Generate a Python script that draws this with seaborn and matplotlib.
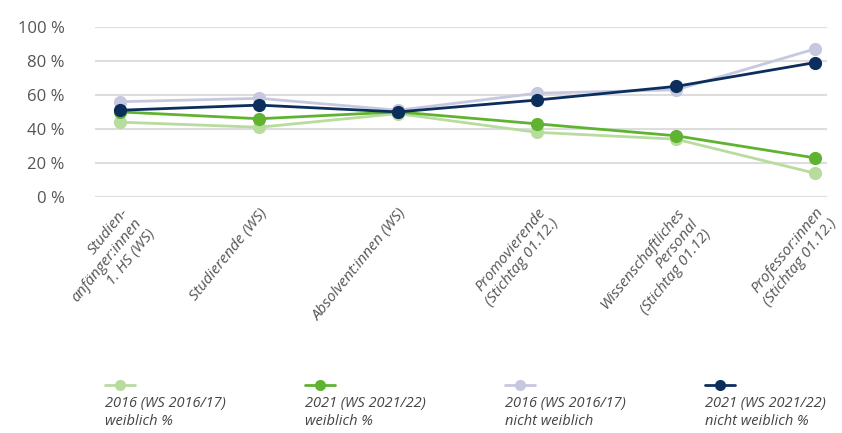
import matplotlib
matplotlib.use("Agg")
import matplotlib.pyplot as plt
from matplotlib.lines import Line2D
import seaborn as sns
import pandas as pd

categories = [
    "Studien-\nanfänger:innen\n1. HS (WS)",
    "Studierende (WS)",
    "Absolvent:innen (WS)",
    "Promovierende\n(Stichtag 01.12.)",
    "Wissenschaftliches\nPersonal\n(Stichtag 01.12)",
    "Professor:innen\n(Stichtag 01.12.)",
]
w2016 = [44, 41, 49, 38, 34, 14]
w2021 = [50, 46, 50, 43, 36, 23]
nw2016 = [56, 58, 51, 61, 63, 87]
nw2021 = [51, 54, 50, 57, 65, 79]

series_names = [
    "2016 (WS 2016/17)\nweiblich %",
    "2021 (WS 2021/22)\nweiblich %",
    "2016 (WS 2016/17)\nnicht weiblich",
    "2021 (WS 2021/22)\nnicht weiblich %",
]
colors = ["#b8dc9e", "#5fb331", "#c6c8e0", "#0b2e5d"]

rows = []
for name, vals in zip(series_names, [w2016, w2021, nw2016, nw2021]):
    for i, v in enumerate(vals):
        rows.append({"pos": i, "value": v, "series": name})
df = pd.DataFrame(rows)

sns.set_style("white")
plt.rcParams["font.family"] = ["Open Sans", "DejaVu Sans"]

fig = plt.figure(figsize=(8.42, 4.33), dpi=100)
ax = fig.add_axes([0.113, 0.545, 0.869, 0.393])

sns.lineplot(
    data=df, x="pos", y="value", hue="series",
    hue_order=series_names, palette=colors,
    marker="o", markersize=9.5, markeredgewidth=0,
    linewidth=2, legend=False, ax=ax,
)
for ln in ax.lines:
    ln.set_clip_on(False)

ax.set_ylim(0, 100)
ax.set_xlim(-0.18, 5.086)
ax.set_yticks([0, 20, 40, 60, 80, 100])
ax.set_yticklabels([f"{t} %" for t in [0, 20, 40, 60, 80, 100]],
                   fontsize=12, color="#555555")
ax.yaxis.grid(True, color="#dddddd", linewidth=1.5)
ax.set_axisbelow(True)
ax.set_xticks(range(len(categories)))
ax.set_xticklabels(categories, rotation=51, ha="right", rotation_mode="anchor",
                   fontsize=11, style="italic", color="#555555",
                   multialignment="right")
ax.tick_params(axis="both", length=0)
ax.tick_params(axis="x", pad=6)
ax.tick_params(axis="y", pad=22)
ax.set_xlabel("")
ax.set_ylabel("")
for s in ax.spines.values():
    s.set_visible(False)

# legend below the chart, handle above the text
x_starts = [105, 305, 505, 705]
for xs, name, c in zip(x_starts, series_names, colors):
    x0 = xs / 842
    y0 = 1 - 385 / 433
    fig.add_artist(Line2D([x0, x0 + 30 / 842], [y0, y0], color=c, linewidth=2,
                          transform=fig.transFigure))
    fig.add_artist(Line2D([x0 + 15 / 842], [y0], color=c, marker="o",
                          markersize=8, markeredgewidth=0,
                          transform=fig.transFigure))
    fig.text(x0, 1 - 396 / 433, name, fontsize=10.5, style="italic",
             color="#444444", va="top", ha="left", linespacing=1.3)

fig.savefig("out.png", dpi=100)
